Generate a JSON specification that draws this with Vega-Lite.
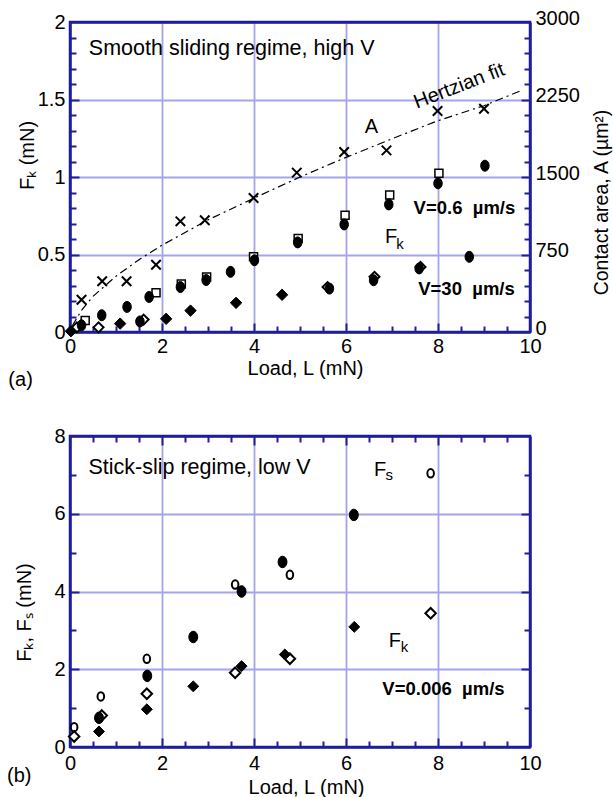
{
  "$schema": "https://vega.github.io/schema/vega-lite/v6.json",
  "background": "white",
  "padding": {"left": 5, "top": 6, "right": 5, "bottom": 5},
  "bounds": "flush",
  "spacing": 104,
  "config": {
    "font": "Liberation Sans",
    "view": {"stroke": "#1e1e9c", "strokeWidth": 2.5},
    "axis": {
      "labelFont": "Liberation Sans", "labelFontSize": 20, "labelColor": "#000",
      "titleFont": "Liberation Sans", "titleFontSize": 20, "titleFontWeight": "normal", "titleColor": "#000",
      "domain": false, "tickColor": "#1e1e9c", "tickWidth": 2,
      "gridColor": "#a3a3ee", "gridWidth": 1.8, "labelFlush": false, "labelOverlap": false
    },
    "text": {"font": "Liberation Sans", "color": "#000"}
  },
  "datasets": {
    "topF": [
      {"L": 0.33, "F": 0.075, "s": "slow_2"}, {"L": 1.87, "F": 0.254, "s": "slow_2"}, {"L": 2.42, "F": 0.31, "s": "slow_2"},
      {"L": 2.97, "F": 0.355, "s": "slow_2"}, {"L": 3.99, "F": 0.485, "s": "slow_2"}, {"L": 4.96, "F": 0.603, "s": "slow_2"},
      {"L": 5.98, "F": 0.754, "s": "slow_2"}, {"L": 6.95, "F": 0.884, "s": "slow_2"}, {"L": 8.02, "F": 1.024, "s": "slow_2"},
      {"L": 0.15, "F": 0.03, "s": "fast_2"}, {"L": 0.62, "F": 0.03, "s": "fast_2"}, {"L": 1.6, "F": 0.08, "s": "fast_2"},
      {"L": 5.6, "F": 0.29, "s": "fast_2"}, {"L": 6.62, "F": 0.356, "s": "fast_2"}, {"L": 7.62, "F": 0.42, "s": "fast_2"},
      {"L": 0.25, "F": 0.043, "s": "slow_1"}, {"L": 0.69, "F": 0.108, "s": "slow_1"}, {"L": 1.24, "F": 0.162, "s": "slow_1"},
      {"L": 1.72, "F": 0.226, "s": "slow_1"}, {"L": 2.4, "F": 0.29, "s": "slow_1"}, {"L": 2.96, "F": 0.335, "s": "slow_1"},
      {"L": 3.49, "F": 0.388, "s": "slow_1"}, {"L": 4.01, "F": 0.463, "s": "slow_1"}, {"L": 4.95, "F": 0.578, "s": "slow_1"},
      {"L": 5.96, "F": 0.694, "s": "slow_1"}, {"L": 6.93, "F": 0.823, "s": "slow_1"}, {"L": 8.0, "F": 0.959, "s": "slow_1"},
      {"L": 9.02, "F": 1.073, "s": "slow_1"},
      {"L": 1.52, "F": 0.068, "s": "fast_3"}, {"L": 5.64, "F": 0.28, "s": "fast_3"}, {"L": 6.6, "F": 0.334, "s": "fast_3"},
      {"L": 7.59, "F": 0.41, "s": "fast_3"}, {"L": 8.68, "F": 0.485, "s": "fast_3"},
      {"L": 0.02, "F": 0.005, "s": "fast_1"}, {"L": 1.09, "F": 0.054, "s": "fast_1"}, {"L": 2.09, "F": 0.085, "s": "fast_1"},
      {"L": 2.62, "F": 0.138, "s": "fast_1"}, {"L": 3.61, "F": 0.188, "s": "fast_1"}, {"L": 4.61, "F": 0.24, "s": "fast_1"}
    ],
    "topA": [
      {"L": 0.25, "A": 312}, {"L": 0.7, "A": 491}, {"L": 1.23, "A": 491}, {"L": 1.87, "A": 651},
      {"L": 2.4, "A": 1071}, {"L": 2.93, "A": 1081}, {"L": 3.99, "A": 1297}, {"L": 4.93, "A": 1542},
      {"L": 5.96, "A": 1742}, {"L": 6.88, "A": 1758}, {"L": 7.99, "A": 2139}, {"L": 9.0, "A": 2161}
    ],
    "hertz": [
      {"L": 0.05, "A": 60}, {"L": 0.25, "A": 210}, {"L": 0.5, "A": 345}, {"L": 1, "A": 540}, {"L": 1.5, "A": 700},
      {"L": 2, "A": 840}, {"L": 3, "A": 1085}, {"L": 4, "A": 1295}, {"L": 5, "A": 1500}, {"L": 6, "A": 1690},
      {"L": 7, "A": 1870}, {"L": 8, "A": 2045}, {"L": 9, "A": 2190}, {"L": 9.8, "A": 2335}
    ],
    "bottom": [
      {"L": 0.09, "F": 0.51, "s": "Fs_2"}, {"L": 0.67, "F": 1.3, "s": "Fs_2"}, {"L": 1.67, "F": 2.27, "s": "Fs_2"},
      {"L": 3.59, "F": 4.18, "s": "Fs_2"}, {"L": 4.78, "F": 4.43, "s": "Fs_2"}, {"L": 7.84, "F": 7.04, "s": "Fs_2"},
      {"L": 0.09, "F": 0.27, "s": "Fk_2"}, {"L": 0.69, "F": 0.81, "s": "Fk_2"}, {"L": 1.67, "F": 1.37, "s": "Fk_2"},
      {"L": 3.59, "F": 1.91, "s": "Fk_2"}, {"L": 4.78, "F": 2.27, "s": "Fk_2"}, {"L": 7.84, "F": 3.44, "s": "Fk_2"},
      {"L": 0.63, "F": 0.75, "s": "Fs_1"}, {"L": 1.68, "F": 1.83, "s": "Fs_1"}, {"L": 2.68, "F": 2.83, "s": "Fs_1"},
      {"L": 3.73, "F": 4.0, "s": "Fs_1"}, {"L": 4.62, "F": 4.76, "s": "Fs_1"}, {"L": 6.17, "F": 5.97, "s": "Fs_1"},
      {"L": 0.63, "F": 0.4, "s": "Fk_1"}, {"L": 1.67, "F": 0.97, "s": "Fk_1"}, {"L": 2.68, "F": 1.56, "s": "Fk_1"},
      {"L": 3.73, "F": 2.08, "s": "Fk_1"}, {"L": 4.67, "F": 2.38, "s": "Fk_1"}, {"L": 6.18, "F": 3.09, "s": "Fk_1"}
    ]
  },
  "vconcat": [
    {
      "width": 460, "height": 310,
      "data": {"name": "topF"},
      "resolve": {"scale": {"y": "independent"}, "axis": {"x": "independent", "y": "independent"}},
      "layer": [
        {
          "mark": {"type": "point", "opacity": 0},
          "encoding": {
            "x": {"field": "L", "type": "quantitative", "scale": {"domain": [0, 10], "nice": false, "zero": false},
              "axis": {"orient": "bottom", "values": [0.5, 1, 1.5, 2.5, 3, 3.5, 4.5, 5, 5.5, 6.5, 7, 7.5, 8.5, 9, 9.5], "labels": false, "grid": false, "title": null, "tickSize": -6}},
            "y": {"field": "F", "type": "quantitative", "scale": {"domain": [0, 2], "nice": false, "zero": false},
              "axis": {"orient": "left", "values": [0.1, 0.2, 0.3, 0.4, 0.6, 0.7, 0.8, 0.9, 1.1, 1.2, 1.3, 1.4, 1.6, 1.7, 1.8, 1.9], "labels": false, "grid": false, "title": null, "tickSize": -6}}
          }
        },
        {
          "mark": {"type": "point", "opacity": 0},
          "encoding": {
            "x": {"field": "L", "type": "quantitative", "scale": {"domain": [0, 10], "nice": false, "zero": false},
              "axis": {"orient": "bottom", "values": [2, 4, 6, 8], "labels": false, "grid": false, "title": null, "tickSize": -9}},
            "y": {"field": "F", "type": "quantitative", "scale": {"domain": [0, 2], "nice": false, "zero": false},
              "axis": {"orient": "left", "values": [0.5, 1, 1.5], "labels": false, "grid": false, "title": null, "tickSize": -9}}
          }
        },
        {
          "mark": {"type": "point", "opacity": 0},
          "encoding": {
            "x": {"field": "L", "type": "quantitative", "scale": {"domain": [0, 10], "nice": false, "zero": false},
              "axis": {"orient": "top", "labels": false, "ticks": false, "grid": false, "title": null, "domain": true, "domainColor": "#1e1e9c", "domainWidth": 2.5}},
            "y": {"field": "F", "type": "quantitative", "scale": {"domain": [0, 2], "nice": false, "zero": false}, "axis": null}
          }
        },
        {
          "transform": [{"filter": "datum.s === 'slow_2'"}],
          "mark": {"type": "point", "shape": "square", "size": 64, "fill": "white", "stroke": "black", "strokeWidth": 1.5, "opacity": 1},
          "encoding": {
            "x": {"field": "L", "type": "quantitative", "scale": {"domain": [0, 10], "nice": false, "zero": false},
              "axis": {"orient": "bottom", "values": [0, 2, 4, 6, 8, 10], "format": "d", "ticks": false, "labelPadding": 4, "grid": true,
                "domain": true, "domainColor": "#1e1e9c", "domainWidth": 2.5,
                "gridOpacity": {"condition": {"test": "datum.value === 0 || datum.value === 10", "value": 0}, "value": 1},
                "title": "Load, L (mN)", "titleX": 235, "titleY": 42, "titleBaseline": "alphabetic", "titleAlign": "center"}},
            "y": {"field": "F", "type": "quantitative", "scale": {"domain": [0, 2], "nice": false, "zero": false},
              "axis": {"orient": "left", "values": [0, 0.5, 1, 1.5, 2], "format": "~r", "ticks": false, "labelPadding": 5, "grid": true,
                "domain": true, "domainColor": "#1e1e9c", "domainWidth": 2.5,
                "gridOpacity": {"condition": {"test": "datum.value === 0 || datum.value === 2", "value": 0}, "value": 1},
                "title": "Fₖ  (mN)", "titleAngle": 270, "titleX": -37, "titleY": 133, "titleAlign": "center", "titleBaseline": "alphabetic"}}
          }
        },
        {
          "transform": [{"filter": "datum.s === 'fast_2'"}],
          "mark": {"type": "point", "shape": "diamond", "size": 100, "fill": "white", "stroke": "black", "strokeWidth": 2, "opacity": 1},
          "encoding": {
            "x": {"field": "L", "type": "quantitative", "scale": {"domain": [0, 10], "nice": false, "zero": false}, "axis": null},
            "y": {"field": "F", "type": "quantitative", "scale": {"domain": [0, 2], "nice": false, "zero": false}, "axis": null}
          }
        },
        {
          "transform": [{"filter": "datum.s === 'slow_1' || datum.s === 'fast_3'"}],
          "mark": {"type": "point", "shape": "M0,-1.1A0.85,1.1 0 1,1 0,1.1A0.85,1.1 0 1,1 0,-1.1Z", "size": 100, "fill": "black", "stroke": "black", "strokeWidth": 1, "opacity": 1},
          "encoding": {
            "x": {"field": "L", "type": "quantitative", "scale": {"domain": [0, 10], "nice": false, "zero": false}, "axis": null},
            "y": {"field": "F", "type": "quantitative", "scale": {"domain": [0, 2], "nice": false, "zero": false}, "axis": null}
          }
        },
        {
          "transform": [{"filter": "datum.s === 'fast_1'"}],
          "mark": {"type": "point", "shape": "diamond", "size": 130, "fill": "black", "stroke": "black", "strokeWidth": 1, "opacity": 1},
          "encoding": {
            "x": {"field": "L", "type": "quantitative", "scale": {"domain": [0, 10], "nice": false, "zero": false}, "axis": null},
            "y": {"field": "F", "type": "quantitative", "scale": {"domain": [0, 2], "nice": false, "zero": false}, "axis": null}
          }
        },
        {
          "data": {"values": [{"L": 0.41, "F": 1.787, "t": "Smooth sliding regime, high V"}]},
          "mark": {"type": "text", "align": "left", "baseline": "alphabetic", "fontSize": 21.5},
          "encoding": {
            "x": {"field": "L", "type": "quantitative", "scale": {"domain": [0, 10], "nice": false, "zero": false}, "axis": null},
            "y": {"field": "F", "type": "quantitative", "scale": {"domain": [0, 2], "nice": false, "zero": false}, "axis": null},
            "text": {"field": "t"}
          }
        },
        {
          "data": {"values": [{"L": 7.47, "F": 0.763, "t": "V=0.6\u00a0\u00a0µm/s"}, {"L": 7.57, "F": 0.237, "t": "V=30\u00a0\u00a0µm/s"}]},
          "mark": {"type": "text", "align": "left", "baseline": "alphabetic", "fontSize": 18.5, "fontWeight": "bold"},
          "encoding": {
            "x": {"field": "L", "type": "quantitative", "scale": {"domain": [0, 10], "nice": false, "zero": false}, "axis": null},
            "y": {"field": "F", "type": "quantitative", "scale": {"domain": [0, 2], "nice": false, "zero": false}, "axis": null},
            "text": {"field": "t"}
          }
        },
        {
          "data": {"values": [{"L": 6.85, "F": 0.577, "t": "F"}, {"L": -1.34, "F": -0.348, "t": "(a)"}]},
          "mark": {"type": "text", "align": "left", "baseline": "alphabetic", "fontSize": 20},
          "encoding": {
            "x": {"field": "L", "type": "quantitative", "scale": {"domain": [0, 10], "nice": false, "zero": false}, "axis": null},
            "y": {"field": "F", "type": "quantitative", "scale": {"domain": [0, 2], "nice": false, "zero": false}, "axis": null},
            "text": {"field": "t"}
          }
        },
        {
          "data": {"values": [{"L": 7.09, "F": 0.537, "t": "k"}]},
          "mark": {"type": "text", "align": "left", "baseline": "alphabetic", "fontSize": 15},
          "encoding": {
            "x": {"field": "L", "type": "quantitative", "scale": {"domain": [0, 10], "nice": false, "zero": false}, "axis": null},
            "y": {"field": "F", "type": "quantitative", "scale": {"domain": [0, 2], "nice": false, "zero": false}, "axis": null},
            "text": {"field": "t"}
          }
        },
        {
          "data": {"name": "hertz"},
          "mark": {"type": "line", "color": "black", "strokeWidth": 1.2, "strokeDash": [8, 4, 2, 4]},
          "encoding": {
            "x": {"field": "L", "type": "quantitative", "scale": {"domain": [0, 10], "nice": false, "zero": false}, "axis": null},
            "y": {"field": "A", "type": "quantitative", "scale": {"domain": [0, 3000], "nice": false, "zero": false},
              "axis": {"orient": "right", "values": [150, 300, 450, 600, 900, 1050, 1200, 1350, 1650, 1800, 1950, 2100, 2400, 2550, 2700, 2850], "labels": false, "grid": false, "title": null, "tickSize": -6}}
          }
        },
        {
          "data": {"name": "topA"},
          "mark": {"type": "point", "opacity": 0},
          "encoding": {
            "x": {"field": "L", "type": "quantitative", "scale": {"domain": [0, 10], "nice": false, "zero": false}, "axis": null},
            "y": {"field": "A", "type": "quantitative", "scale": {"domain": [0, 3000], "nice": false, "zero": false},
              "axis": {"orient": "right", "values": [750, 1500, 2250], "labels": false, "grid": false, "title": null, "tickSize": -9}}
          }
        },
        {
          "data": {"name": "topA"},
          "mark": {"type": "point", "shape": "M-1,-1L1,1M-1,1L1,-1", "size": 90, "fill": null, "stroke": "black", "strokeWidth": 2, "opacity": 1},
          "encoding": {
            "x": {"field": "L", "type": "quantitative", "scale": {"domain": [0, 10], "nice": false, "zero": false}, "axis": null},
            "y": {"field": "A", "type": "quantitative", "scale": {"domain": [0, 3000], "nice": false, "zero": false},
              "axis": {"orient": "right", "values": [0, 750, 1500, 2250, 3000], "format": "d", "ticks": false, "grid": false, "labelPadding": 5, "labelOffset": -4,
                "domain": true, "domainColor": "#1e1e9c", "domainWidth": 2.5,
                "title": "Contact area, A (µm²)", "titleFontSize": 19.5, "titleAngle": 270, "titleX": 77, "titleY": 180, "titleAlign": "center", "titleBaseline": "alphabetic"}}
          }
        },
        {
          "data": {"values": [{"L": 8.46, "A": 2380, "t": "Hertzian fit"}]},
          "mark": {"type": "text", "align": "center", "baseline": "middle", "fontSize": 20, "angle": 339},
          "encoding": {
            "x": {"field": "L", "type": "quantitative", "scale": {"domain": [0, 10], "nice": false, "zero": false}, "axis": null},
            "y": {"field": "A", "type": "quantitative", "scale": {"domain": [0, 3000], "nice": false, "zero": false}, "axis": null},
            "text": {"field": "t"}
          }
        },
        {
          "data": {"values": [{"L": 6.55, "A": 1929, "t": "A"}]},
          "mark": {"type": "text", "align": "center", "baseline": "alphabetic", "fontSize": 20},
          "encoding": {
            "x": {"field": "L", "type": "quantitative", "scale": {"domain": [0, 10], "nice": false, "zero": false}, "axis": null},
            "y": {"field": "A", "type": "quantitative", "scale": {"domain": [0, 3000], "nice": false, "zero": false}, "axis": null},
            "text": {"field": "t"}
          }
        }
      ]
    },
    {
      "width": 460, "height": 311,
      "data": {"name": "bottom"},
      "resolve": {"axis": {"x": "independent", "y": "independent"}},
      "layer": [
        {
          "mark": {"type": "point", "opacity": 0},
          "encoding": {
            "x": {"field": "L", "type": "quantitative", "scale": {"domain": [0, 10], "nice": false, "zero": false},
              "axis": {"orient": "bottom", "values": [0.5, 1, 1.5, 2.5, 3, 3.5, 4.5, 5, 5.5, 6.5, 7, 7.5, 8.5, 9, 9.5], "labels": false, "grid": false, "title": null, "tickSize": -6}},
            "y": {"field": "F", "type": "quantitative", "scale": {"domain": [0, 8], "nice": false, "zero": false},
              "axis": {"orient": "left", "values": [1, 3, 5, 7], "labels": false, "grid": false, "title": null, "tickSize": -6}}
          }
        },
        {
          "mark": {"type": "point", "opacity": 0},
          "encoding": {
            "x": {"field": "L", "type": "quantitative", "scale": {"domain": [0, 10], "nice": false, "zero": false},
              "axis": {"orient": "top", "values": [0.5, 1, 1.5, 2.5, 3, 3.5, 4.5, 5, 5.5, 6.5, 7, 7.5, 8.5, 9, 9.5], "labels": false, "grid": false, "title": null, "tickSize": -6}},
            "y": {"field": "F", "type": "quantitative", "scale": {"domain": [0, 8], "nice": false, "zero": false},
              "axis": {"orient": "right", "values": [1, 3, 5, 7], "labels": false, "grid": false, "title": null, "tickSize": -6}}
          }
        },
        {
          "mark": {"type": "point", "opacity": 0},
          "encoding": {
            "x": {"field": "L", "type": "quantitative", "scale": {"domain": [0, 10], "nice": false, "zero": false},
              "axis": {"orient": "bottom", "values": [2, 4, 6, 8], "labels": false, "grid": false, "title": null, "tickSize": -9}},
            "y": {"field": "F", "type": "quantitative", "scale": {"domain": [0, 8], "nice": false, "zero": false},
              "axis": {"orient": "left", "values": [2, 4, 6], "labels": false, "grid": false, "title": null, "tickSize": -9}}
          }
        },
        {
          "mark": {"type": "point", "opacity": 0},
          "encoding": {
            "x": {"field": "L", "type": "quantitative", "scale": {"domain": [0, 10], "nice": false, "zero": false},
              "axis": {"orient": "top", "values": [2, 4, 6, 8], "labels": false, "grid": false, "title": null, "tickSize": -9, "domain": true, "domainColor": "#1e1e9c", "domainWidth": 2.5}},
            "y": {"field": "F", "type": "quantitative", "scale": {"domain": [0, 8], "nice": false, "zero": false},
              "axis": {"orient": "right", "values": [2, 4, 6], "labels": false, "grid": false, "title": null, "tickSize": -9, "domain": true, "domainColor": "#1e1e9c", "domainWidth": 2.5}}
          }
        },
        {
          "transform": [{"filter": "datum.s === 'Fs_2'"}],
          "mark": {"type": "point", "shape": "M0,-1.1A0.85,1.1 0 1,1 0,1.1A0.85,1.1 0 1,1 0,-1.1Z", "size": 60, "fill": "white", "stroke": "black", "strokeWidth": 2, "opacity": 1},
          "encoding": {
            "x": {"field": "L", "type": "quantitative", "scale": {"domain": [0, 10], "nice": false, "zero": false},
              "axis": {"orient": "bottom", "values": [0, 2, 4, 6, 8, 10], "format": "d", "ticks": false, "labelPadding": 6, "grid": true,
                "domain": true, "domainColor": "#1e1e9c", "domainWidth": 2.5,
                "gridOpacity": {"condition": {"test": "datum.value === 0 || datum.value === 10", "value": 0}, "value": 1},
                "title": "Load, L (mN)", "titleX": 236, "titleY": 46, "titleBaseline": "alphabetic", "titleAlign": "center"}},
            "y": {"field": "F", "type": "quantitative", "scale": {"domain": [0, 8], "nice": false, "zero": false},
              "axis": {"orient": "left", "values": [0, 2, 4, 6, 8], "format": "d", "ticks": false, "labelPadding": 5, "grid": true,
                "domain": true, "domainColor": "#1e1e9c", "domainWidth": 2.5,
                "gridOpacity": {"condition": {"test": "datum.value === 0 || datum.value === 8", "value": 0}, "value": 1},
                "title": "Fₖ, Fₛ  (mN)", "titleAngle": 270, "titleX": -40, "titleY": 176, "titleAlign": "center", "titleBaseline": "alphabetic"}}
          }
        },
        {
          "transform": [{"filter": "datum.s === 'Fk_2'"}],
          "mark": {"type": "point", "shape": "diamond", "size": 110, "fill": "white", "stroke": "black", "strokeWidth": 2, "opacity": 1},
          "encoding": {
            "x": {"field": "L", "type": "quantitative", "scale": {"domain": [0, 10], "nice": false, "zero": false}, "axis": null},
            "y": {"field": "F", "type": "quantitative", "scale": {"domain": [0, 8], "nice": false, "zero": false}, "axis": null}
          }
        },
        {
          "transform": [{"filter": "datum.s === 'Fs_1'"}],
          "mark": {"type": "point", "shape": "M0,-1.1A0.85,1.1 0 1,1 0,1.1A0.85,1.1 0 1,1 0,-1.1Z", "size": 110, "fill": "black", "stroke": "black", "strokeWidth": 1, "opacity": 1},
          "encoding": {
            "x": {"field": "L", "type": "quantitative", "scale": {"domain": [0, 10], "nice": false, "zero": false}, "axis": null},
            "y": {"field": "F", "type": "quantitative", "scale": {"domain": [0, 8], "nice": false, "zero": false}, "axis": null}
          }
        },
        {
          "transform": [{"filter": "datum.s === 'Fk_1'"}],
          "mark": {"type": "point", "shape": "diamond", "size": 120, "fill": "black", "stroke": "black", "strokeWidth": 1, "opacity": 1},
          "encoding": {
            "x": {"field": "L", "type": "quantitative", "scale": {"domain": [0, 10], "nice": false, "zero": false}, "axis": null},
            "y": {"field": "F", "type": "quantitative", "scale": {"domain": [0, 8], "nice": false, "zero": false}, "axis": null}
          }
        },
        {
          "data": {"values": [{"L": 0.4, "F": 7.03, "t": "Stick-slip regime, low V"}]},
          "mark": {"type": "text", "align": "left", "baseline": "alphabetic", "fontSize": 21.5},
          "encoding": {
            "x": {"field": "L", "type": "quantitative", "scale": {"domain": [0, 10], "nice": false, "zero": false}, "axis": null},
            "y": {"field": "F", "type": "quantitative", "scale": {"domain": [0, 8], "nice": false, "zero": false}, "axis": null},
            "text": {"field": "t"}
          }
        },
        {
          "data": {"values": [{"L": 6.79, "F": 1.34, "t": "V=0.006\u00a0\u00a0µm/s"}]},
          "mark": {"type": "text", "align": "left", "baseline": "alphabetic", "fontSize": 18.5, "fontWeight": "bold"},
          "encoding": {
            "x": {"field": "L", "type": "quantitative", "scale": {"domain": [0, 10], "nice": false, "zero": false}, "axis": null},
            "y": {"field": "F", "type": "quantitative", "scale": {"domain": [0, 8], "nice": false, "zero": false}, "axis": null},
            "text": {"field": "t"}
          }
        },
        {
          "data": {"values": [{"L": 6.61, "F": 6.97, "t": "F"}, {"L": 6.93, "F": 2.57, "t": "F"}, {"L": -1.37, "F": -0.9, "t": "(b)"}]},
          "mark": {"type": "text", "align": "left", "baseline": "alphabetic", "fontSize": 20},
          "encoding": {
            "x": {"field": "L", "type": "quantitative", "scale": {"domain": [0, 10], "nice": false, "zero": false}, "axis": null},
            "y": {"field": "F", "type": "quantitative", "scale": {"domain": [0, 8], "nice": false, "zero": false}, "axis": null},
            "text": {"field": "t"}
          }
        },
        {
          "data": {"values": [{"L": 6.86, "F": 6.87, "t": "s"}, {"L": 7.19, "F": 2.44, "t": "k"}]},
          "mark": {"type": "text", "align": "left", "baseline": "alphabetic", "fontSize": 15},
          "encoding": {
            "x": {"field": "L", "type": "quantitative", "scale": {"domain": [0, 10], "nice": false, "zero": false}, "axis": null},
            "y": {"field": "F", "type": "quantitative", "scale": {"domain": [0, 8], "nice": false, "zero": false}, "axis": null},
            "text": {"field": "t"}
          }
        }
      ]
    }
  ]
}
